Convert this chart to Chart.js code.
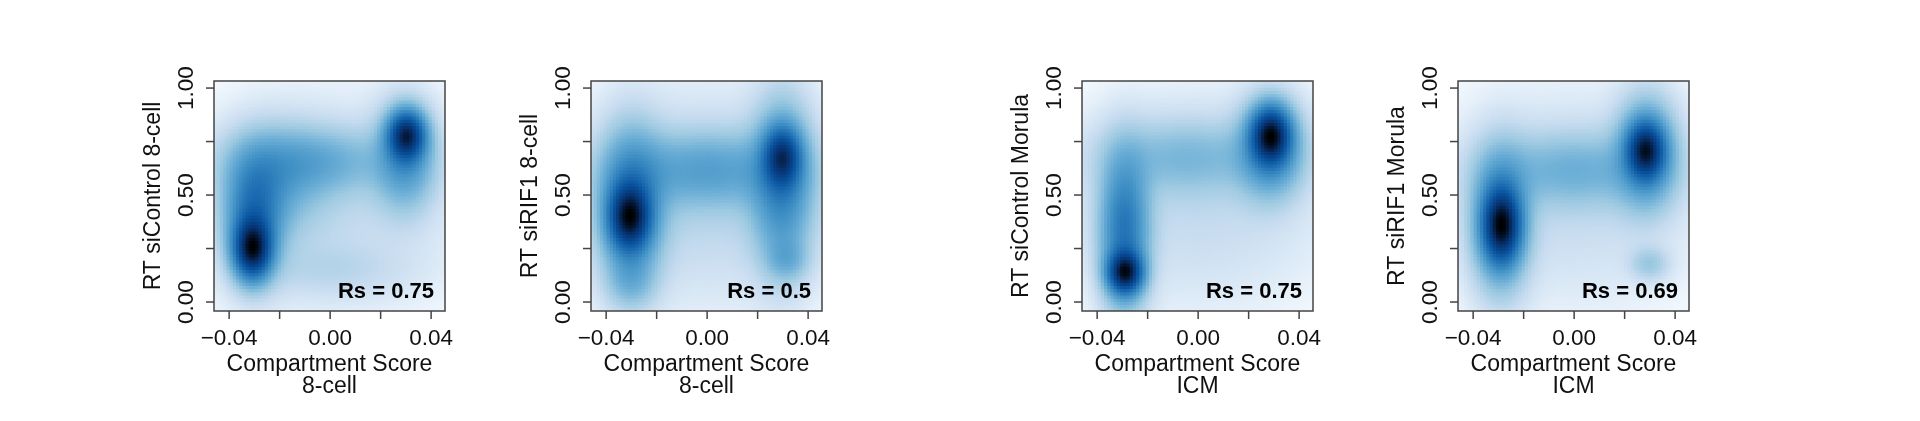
<!DOCTYPE html>
<html><head><meta charset="utf-8">
<script src="https://cdn.jsdelivr.net/npm/chart.js@4/dist/chart.umd.min.js"></script>
<style>body{margin:0;background:#fff;width:1920px;height:421px;overflow:hidden;position:relative}canvas{position:absolute;top:0}</style>
</head><body>
<script>
// Tick labels
const xTicks = [-0.04, -0.02, 0.00, 0.02, 0.04];
const xTickLabels = ["\u22120.04", "", "0.00", "", "0.04"];
const yTicks = [0, 0.25, 0.5, 0.75, 1.0];
const yTickLabels = ["0.00", "", "0.50", "", "1.00"];
// Panel texts
const yTitles = ["RT siControl 8-cell", "RT siRIF1 8-cell", "RT siControl Morula", "RT siRIF1 Morula"];
const xTitle2 = ["8-cell", "8-cell", "ICM", "ICM"];
const rsLabels = ["Rs = 0.75", "Rs = 0.5", "Rs = 0.75", "Rs = 0.69"];
// Density blobs: [x, y, sdX, sdY, peak]
const blobs1 = [[-0.0305,0.25,0.0045,0.085,1.0],[-0.0300,0.40,0.007,0.17,0.42],[0.0305,0.78,0.0045,0.07,0.9],[0.030,0.68,0.0075,0.15,0.28],[-0.008,0.66,0.02,0.1,0.18],[-0.022,0.55,0.012,0.16,0.15],[0.0,0.47,0.032,0.3,0.05],[0.0,0.15,0.02,0.08,0.04]];
const blobs2 = [[-0.0305,0.40,0.005,0.095,1.0],[-0.030,0.45,0.008,0.22,0.42],[0.030,0.68,0.0045,0.085,0.75],[0.030,0.55,0.0075,0.24,0.37],[0.0,0.62,0.022,0.11,0.22],[0,0.5,0.032,0.3,0.07],[-0.030,0.1,0.006,0.08,0.12],[0.032,0.2,0.005,0.06,0.12]];
const blobs3 = [[-0.0287,0.14,0.0042,0.06,1.0],[-0.029,0.33,0.006,0.22,0.45],[0.029,0.78,0.0047,0.08,1.0],[0.029,0.72,0.008,0.14,0.35],[-0.005,0.68,0.022,0.11,0.13],[0,0.48,0.032,0.3,0.05]];
const blobs4 = [[-0.0285,0.36,0.0045,0.105,1.0],[-0.029,0.38,0.007,0.2,0.4],[0.0286,0.71,0.0045,0.08,0.9],[0.029,0.7,0.0075,0.16,0.35],[0,0.62,0.022,0.11,0.16],[0,0.5,0.032,0.3,0.05],[0.03,0.18,0.005,0.05,0.1]];
const allBlobs = [blobs1, blobs2, blobs3, blobs4];

const boxLefts = [214, 591, 1082, 1458];
const BOXW = 231, TOP = 81, BOT = 311;
const XMIN = -0.046, XMAX = 0.0455, YMIN = -0.042, YMAX = 1.033;
const N = 72;
const stops = ["#FFFFFF","#F7FBFF","#DEEBF7","#C6DBEF","#9ECAE1","#6BAED6","#4292C6","#2171B5","#08519C","#08306B","#000000"];
function hex(h){return [1,3,5].map(i=>parseInt(h.substr(i,2),16));}
const stopRGB = stops.map(hex);
function ramp(t){t=Math.max(0,Math.min(1,t));const p=t*(stops.length-1);const i=Math.min(Math.floor(p),stops.length-2);const f=p-i;const a=stopRGB[i],b=stopRGB[i+1];return `rgb(${a.map((v,k)=>Math.round(v+(b[k]-v)*f)).join(',')})`;}

const FONT = '"Liberation Sans", Arial, sans-serif';

allBlobs.forEach((blobs, pi) => {
  const pts = [], dens = [];
  for (let i = 0; i < N; i++) for (let j = 0; j < N; j++) {
    const x = XMIN + (i + 0.5) * (XMAX - XMIN) / N, y = YMIN + (j + 0.5) * (YMAX - YMIN) / N;
    let d = 0;
    blobs.forEach(b => { d += b[4] * Math.exp(-0.5 * (((x - b[0]) / b[2]) ** 2 + ((y - b[1]) / b[3]) ** 2)); });
    pts.push({x, y}); dens.push(d);
  }
  const mx = Math.max(...dens);
  const colors = dens.map(d => ramp(Math.pow(d / mx, 0.36)));
  const cv = document.createElement('canvas');
  const padL = 110, padR = 30;
  cv.width = padL + BOXW + padR; cv.height = 421;
  cv.style.left = (boxLefts[pi] - padL) + 'px';
  cv.style.width = cv.width + 'px'; cv.style.height = '421px';
  document.body.appendChild(cv);
  const deco = {
    id: 'deco',
    afterDatasetsDraw(chart) {
      const ctx = chart.ctx, xs = chart.scales.x, ys = chart.scales.y, a = chart.chartArea;
      ctx.save();
      ctx.strokeStyle = '#444'; ctx.lineWidth = 1.5;
      ctx.strokeRect(a.left, a.top, a.right - a.left, a.bottom - a.top);
      ctx.fillStyle = '#111'; ctx.font = '22.5px ' + FONT;
      ctx.textAlign = 'center'; ctx.textBaseline = 'middle';
      xTicks.forEach((v, k) => {
        const px = xs.getPixelForValue(v);
        ctx.beginPath(); ctx.moveTo(px, a.bottom); ctx.lineTo(px, a.bottom + 8); ctx.stroke();
        if (xTickLabels[k]) ctx.fillText(xTickLabels[k], px, a.bottom + 28);
      });
      yTicks.forEach((v, k) => {
        const py = ys.getPixelForValue(v);
        ctx.beginPath(); ctx.moveTo(a.left, py); ctx.lineTo(a.left - 8, py); ctx.stroke();
        if (yTickLabels[k]) { ctx.save(); ctx.translate(a.left - 27, py); ctx.rotate(-Math.PI / 2); ctx.fillText(yTickLabels[k], 0, 0); ctx.restore(); }
      });
      const cx = (a.left + a.right) / 2;
      ctx.font = '23px ' + FONT;
      ctx.fillText('Compartment Score', cx, a.bottom + 54);
      ctx.fillText(xTitle2[pi], cx, a.bottom + 76);
      ctx.save(); ctx.translate(a.left - 60, (a.top + a.bottom) / 2); ctx.rotate(-Math.PI / 2);
      ctx.fillText(yTitles[pi], 0, 0); ctx.restore();
      ctx.font = 'bold 22px ' + FONT; ctx.textAlign = 'right'; ctx.fillStyle = '#000';
      ctx.fillText(rsLabels[pi], a.right - 11, a.bottom - 19);
      ctx.restore();
    }
  };
  new Chart(cv, {
    type: 'scatter',
    data: { datasets: [{ data: pts, backgroundColor: colors, borderWidth: 0, pointStyle: 'rect',
      pointRadius: 2.9, pointHoverRadius: 2.9 }] },
    options: {
      responsive: false, animation: false, events: [],
      layout: { padding: { left: padL, right: padR, top: TOP, bottom: 421 - BOT } },
      plugins: { legend: { display: false }, tooltip: { enabled: false } },
      scales: {
        x: { type: 'linear', min: XMIN, max: XMAX, display: false },
        y: { type: 'linear', min: YMIN, max: YMAX, display: false }
      }
    },
    plugins: [deco]
  });
});
</script>
</body></html>
